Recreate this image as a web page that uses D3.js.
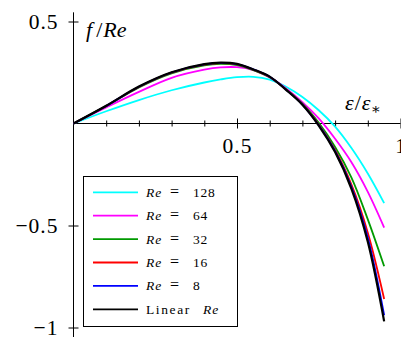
<!DOCTYPE html>
<html>
<head>
<meta charset="utf-8">
<script src="https://cdn.jsdelivr.net/npm/d3@7"></script>
<style>
  html, body { margin: 0; padding: 0; background: #fff; }
  svg { display: block; }
  svg text { font-family: "Liberation Serif", "DejaVu Serif", serif; }
</style>
</head>
<body>
<div id="chart"></div>
<script>
// eps/eps* sample points
const xs = [0, 0.1, 0.2, 0.3, 0.4, 0.45, 0.5, 0.55, 0.6, 0.65, 0.7, 0.75, 0.8, 0.85, 0.9, 0.95];

// f/Re for each Reynolds number
const re128 = [0, 0.06, 0.115, 0.163, 0.201, 0.216, 0.227, 0.229, 0.215, 0.18, 0.13, 0.065, -0.015, -0.12, -0.245, -0.39];
const re64  = [0, 0.079, 0.155, 0.224, 0.264, 0.275, 0.276, 0.262, 0.226, 0.172, 0.105, 0.025, -0.075, -0.19, -0.335, -0.51];
const re32  = [0, 0.085, 0.177, 0.246, 0.285, 0.292, 0.286, 0.262, 0.227, 0.168, 0.097, 0.003, -0.115, -0.265, -0.47, -0.70];
const re16  = [0, 0.086, 0.179, 0.249, 0.289, 0.296, 0.29, 0.264, 0.228, 0.167, 0.094, -0.005, -0.13, -0.30, -0.535, -0.86];
const re8   = [0, 0.086, 0.18, 0.25, 0.29, 0.297, 0.291, 0.265, 0.229, 0.166, 0.093, -0.008, -0.135, -0.31, -0.56, -0.94];
const reLin = [0, 0.087, 0.181, 0.251, 0.291, 0.298, 0.292, 0.265, 0.23, 0.165, 0.092, -0.01, -0.14, -0.32, -0.58, -0.97];

const seriesNames = ["128", "64", "32", "16", "8", "Linear"];
const seriesValues = [re128, re64, re32, re16, re8, reLin];
const seriesColors = ["#00ffff", "#ff00ff", "#009a00", "#ff0000", "#0000ff", "#000000"];

const xMinor = [0.1, 0.2, 0.3, 0.4, 0.6, 0.7, 0.8, 0.9];
const xMajor = [0.5, 1];
const yMajor = [0.5, -0.5, -1];

const W = 401, H = 337;
const FONT = "Liberation Serif, DejaVu Serif, serif";
const x = d3.scaleLinear().domain([0, 1]).range([73.5, 400.5]);
const y = d3.scaleLinear().domain([-1, 0.5]).range([327.5, 21.5]);

const svg = d3.select("#chart").append("svg").attr("width", W).attr("height", H)
  .attr("viewBox", `0 0 ${W} ${H}`).attr("font-family", FONT);

// axes through the origin
svg.append("line").attr("x1", x(0)).attr("x2", x(1)).attr("y1", y(0)).attr("y2", y(0))
  .attr("stroke", "#000").attr("stroke-width", 1);
svg.append("line").attr("x1", x(0)).attr("x2", x(0)).attr("y1", y(0.545)).attr("y2", y(-1.06))
  .attr("stroke", "#000").attr("stroke-width", 1);

// x ticks (crossing the axis)
const gxm = svg.append("g").attr("transform", `translate(0,${y(0)})`)
  .call(d3.axisBottom(x).tickValues(xMinor).tickSize(0).tickFormat(""));
gxm.select(".domain").remove();
gxm.selectAll(".tick line").attr("y1", -3).attr("y2", 3).attr("stroke", "#000");

const gx = svg.append("g").attr("transform", `translate(0,${y(0)})`)
  .call(d3.axisBottom(x).tickValues(xMajor).tickSize(0).tickFormat(d3.format("")));
gx.attr("font-family", FONT).select(".domain").remove();
gx.selectAll(".tick line").attr("y1", -5).attr("y2", 5).attr("stroke", "#000");
gx.selectAll(".tick text").attr("y", 29.5).attr("dy", null)
  .attr("font-size", 21.5).attr("letter-spacing", 1).attr("fill", "#000");

// y ticks
const gy = svg.append("g").attr("transform", `translate(${x(0)},0)`)
  .call(d3.axisLeft(y).tickValues(yMajor).tickSize(0)
    .tickFormat((d) => (d < 0 ? "\u2212" : "") + Math.abs(d)));
gy.attr("font-family", FONT).select(".domain").remove();
gy.selectAll(".tick line").attr("x1", -5).attr("x2", 5).attr("stroke", "#000");
gy.selectAll(".tick text").attr("x", -15).attr("dy", "0.34em")
  .attr("font-size", 21.5).attr("letter-spacing", 1).attr("fill", "#000");

// curves
const line = d3.line().x((d) => x(d[0])).y((d) => y(d[1])).curve(d3.curveCatmullRom.alpha(0.5));
svg.append("g").selectAll("path").data(seriesValues).join("path")
  .attr("d", (vals) => line(vals.map((v, i) => [xs[i], v])))
  .attr("fill", "none")
  .attr("stroke", (d, i) => seriesColors[i])
  .attr("stroke-width", (d, i) => i === 5 ? 2.2 : 1.8);

// axis labels
const fl = svg.append("text").attr("x", 86).attr("y", 37).attr("font-size", 22).attr("fill", "#000");
fl.append("tspan").attr("font-style", "italic").text("f");
fl.append("tspan").attr("dx", 4).text("/");
fl.append("tspan").attr("font-style", "italic").attr("dx", 1).text("Re");

const el = svg.append("text").attr("x", 345).attr("y", 110).attr("font-size", 22).attr("fill", "#000");
el.append("tspan").attr("font-style", "italic").text("ε");
el.append("tspan").attr("dx", 1).text("/");
el.append("tspan").attr("font-style", "italic").attr("dx", 1).text("ε");
el.append("tspan").attr("font-size", 15).attr("dy", 4).text("∗");

// legend
const lg = svg.append("g");
lg.append("rect").attr("x", 83.5).attr("y", 176.5).attr("width", 154).attr("height", 150)
  .attr("fill", "#fff").attr("stroke", "#000").attr("stroke-width", 1);
const rows = lg.selectAll("g.row").data(seriesNames).join("g").attr("class", "row")
  .attr("transform", (d, i) => `translate(0,${192.3 + i * 23.4})`);
rows.append("line").attr("x1", 93).attr("x2", 138).attr("y1", 0).attr("y2", 0)
  .attr("stroke", (d, i) => seriesColors[i]).attr("stroke-width", 1.8);
rows.each(function (d) {
  const t = d3.select(this).append("text").attr("x", 146).attr("y", 4.5)
    .attr("font-size", 13.5).attr("fill", "#000");
  if (d === "Linear") {
    t.append("tspan").attr("letter-spacing", 1.6).text("Linear");
    t.append("tspan").attr("x", 203).attr("font-style", "italic").attr("letter-spacing", 1).text("Re");
  } else {
    t.append("tspan").attr("font-style", "italic").attr("letter-spacing", 1).text("Re");
    t.append("tspan").attr("x", 170).attr("font-size", 16).text("=");
    t.append("tspan").attr("x", 193).attr("letter-spacing", 0.8).text(d);
  }
});
</script>
</body>
</html>
